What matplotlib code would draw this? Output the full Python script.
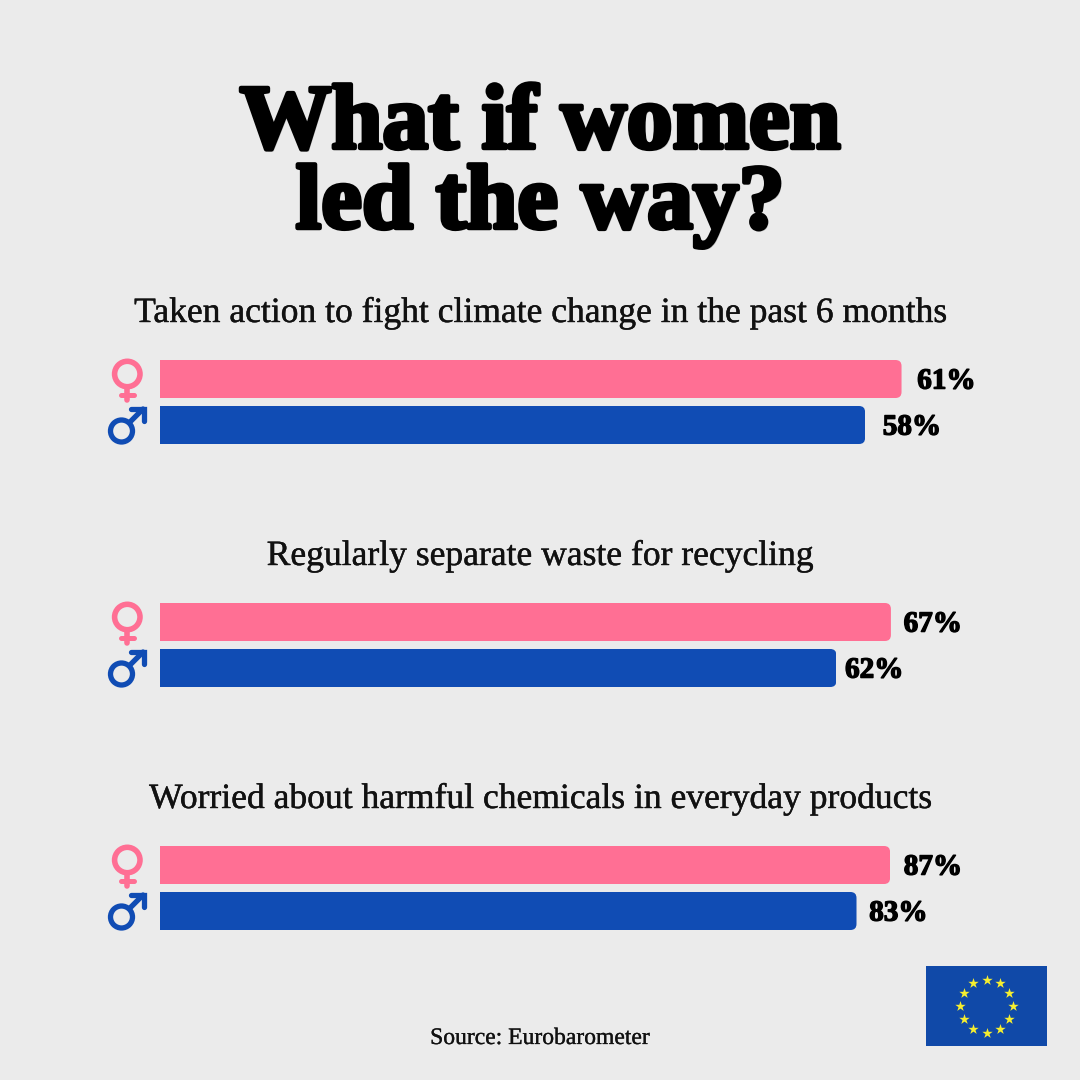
import matplotlib
matplotlib.use('Agg')
import matplotlib.pyplot as plt
import matplotlib.patheffects as pe
from matplotlib.patches import Circle, FancyBboxPatch, Rectangle
from matplotlib.transforms import IdentityTransform
import numpy as np

title_lines = ['What if women', 'led the way?']
questions = ['Taken action to fight climate change in the past 6 months',
             'Regularly separate waste for recycling',
             'Worried about harmful chemicals in everyday products']
women = [61, 67, 87]
men = [58, 62, 83]
source = 'Source: Eurobarometer'

# every group has its own scale in the original
group_xmax = [69.1, 77.0, 100.1]
label_gap_women = [15, 12, 13]
label_gap_men = [17, 8, 12]

bg = '#ebebeb'
pink = '#ff6f94'
blue = '#104cb4'
flag_blue = '#1049a8'
star_yellow = '#f5ee30'
serif_text = 'Liberation Serif'

W = 1080
group_step = 243

fig = plt.figure(figsize=(10.8, 10.8), dpi=100, facecolor=bg)

# overlay in pixel coordinates for texts and pictograms
over = fig.add_axes([0, 0, 1, 1], zorder=5)
over.set_xlim(0, W)
over.set_ylim(W, 0)
over.axis('off')

shadow = [pe.withSimplePatchShadow(offset=(1.5, -1.5), shadow_rgbFace='k', alpha=0.18),
          pe.withStroke(linewidth=3.2, foreground='k')]
for line, y in zip(title_lines, [148, 228]):
    over.text(W/2, y, line, ha='center', va='baseline', family=serif_text,
              fontweight='bold', fontsize=66, color='k', path_effects=shadow)


def draw_female(y0):
    over.add_patch(Circle((127.3, y0 + 14), 12.7, fill=False, ec=pink, lw=4))
    over.plot([127.3, 127.3], [y0 + 28, y0 + 40], color=pink, lw=4, solid_capstyle='round')
    over.plot([121, 134], [y0 + 35, y0 + 35], color=pink, lw=3.6, solid_capstyle='round')


def draw_male(y0):
    over.add_patch(Circle((121.5, y0 + 71), 11, fill=False, ec=blue, lw=3.8))
    over.plot([130, 143], [y0 + 62, y0 + 49], color=blue, lw=3.8, solid_capstyle='round')
    over.plot([131, 144, 144], [y0 + 49, y0 + 49, y0 + 61], color=blue, lw=3.8,
              solid_capstyle='round', solid_joinstyle='miter')


def rounded_bar(ax, rect, radius=6):
    # square on the left, rounded on the right
    x0, y0 = ax.transData.transform((0, rect.get_y()))
    x1, y1 = ax.transData.transform((rect.get_width(), rect.get_y() + rect.get_height()))
    clip = FancyBboxPatch((x0 - 30, min(y0, y1)), x1 - x0 + 30, abs(y1 - y0),
                          boxstyle=f'round,pad=0,rounding_size={radius}',
                          transform=IdentityTransform())
    rect.set_clip_path(clip)


for i in range(len(questions)):
    off = i*group_step
    top = 360 + off
    ax = fig.add_axes([160/W, 1 - (top + 84)/W, 840/W, 84/W])
    ax.set_xlim(0, group_xmax[i])
    ax.set_ylim(84, 0)
    ax.axis('off')
    ax.patch.set_alpha(0)
    bars = ax.barh([19, 65], [women[i], men[i]], height=38, color=[pink, blue])
    for rect in bars:
        rounded_bar(ax, rect)
    for val, y, gap in zip([women[i], men[i]], [19, 65], [label_gap_women[i], label_gap_men[i]]):
        ax.annotate(f'{val}%', xy=(val, y), xytext=(gap*0.72 + 0.5, -1.5), textcoords='offset points',
                    ha='left', va='center', family=serif_text, fontweight='bold',
                    fontsize=21, color='k', annotation_clip=False,
                    path_effects=[pe.withStroke(linewidth=1.0, foreground='k')])
    over.text(W/2, 322 + off, questions[i], ha='center', va='baseline', family=serif_text,
              fontsize=25.6, color='#111111',
              path_effects=[pe.withStroke(linewidth=0.3, foreground='#111111')])
    draw_female(top)
    draw_male(top)

over.text(W/2, 1044, source, ha='center', va='baseline', family=serif_text, fontsize=17,
          color='#111111', path_effects=[pe.withStroke(linewidth=0.2, foreground='#111111')])

# EU flag
over.add_patch(Rectangle((926, 966), 121, 80, facecolor=flag_blue, linewidth=0))
angles = np.arange(12)*np.pi/6
over.scatter(986.5 + 26.5*np.sin(angles), 1006 - 26.5*np.cos(angles), marker='*', s=62,
             color=star_yellow, linewidths=0)

fig.savefig('out.png', dpi=100, facecolor=bg)
